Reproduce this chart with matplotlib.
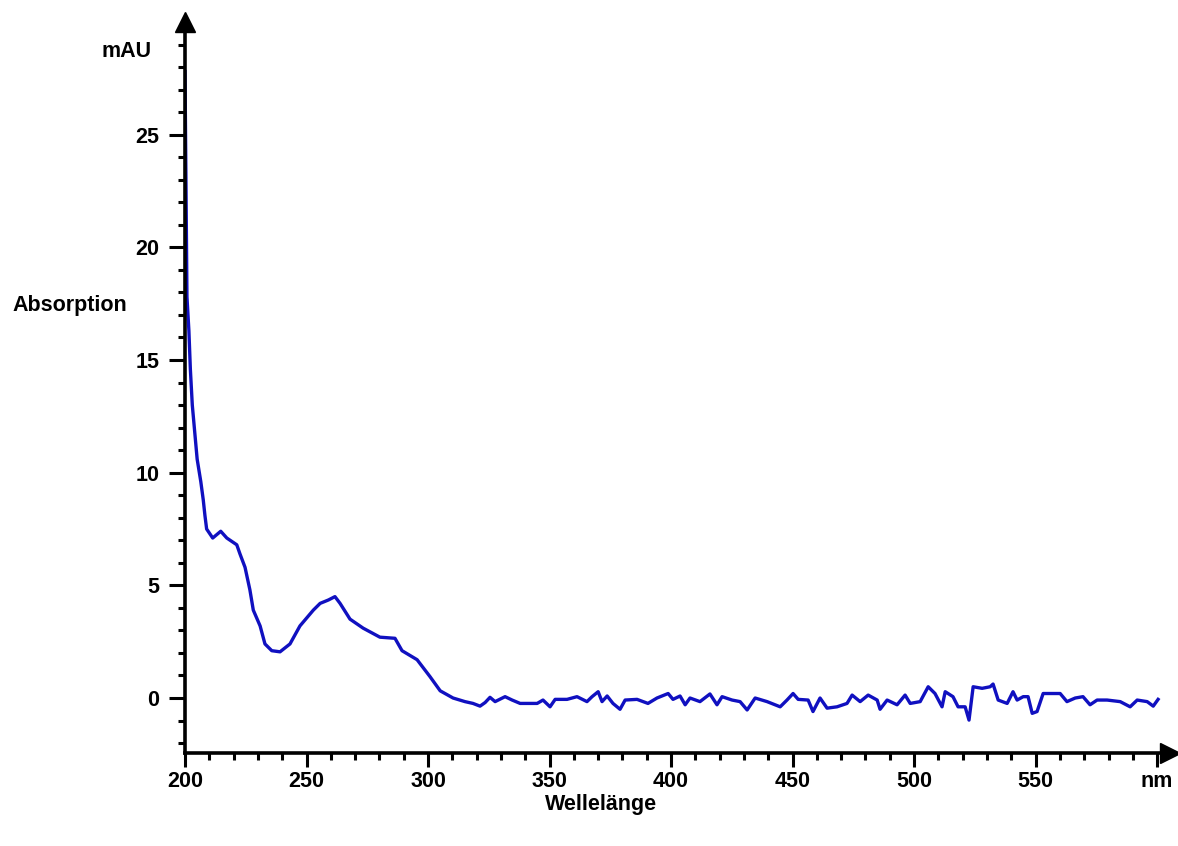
import numpy as np
import matplotlib.pyplot as plt

plt.rcParams['font.family'] = ['Liberation Sans', 'DejaVu Sans']
plt.rcParams['font.weight'] = 'bold'

# spectrum (wavelength in nm, absorption in mAU)
wavelength = [200, 200.4, 200.8, 201.6, 202.2, 203, 204, 205, 206.5, 207.5, 208.2, 208.9,
              211.4, 214.7, 217.2, 221.3, 222.6, 224.7, 226.7, 228.1, 230.9, 232.9, 235.7,
              239.1, 243.2, 247.3, 252.8, 255.6, 259, 261.7, 263.8, 267.9, 273.3, 280.2,
              286.4, 289.3, 295.5, 300.8, 305, 310.3, 315.2, 318.5, 321.4, 323.5, 325.5,
              327.6, 331.7, 334.6, 337.9, 344.9, 347.3, 350.2, 352.3, 357.2, 361.3, 365.4,
              367.5, 370, 371.6, 373.7, 376.1, 379, 381.1, 386, 390.5, 394.2, 398.8, 400.8,
              403.7, 405.8, 407.8, 411.9, 416, 418.9, 421, 425.1, 428.4, 431.3, 434.6,
              439.5, 444.9, 447.7, 450.2, 452.3, 456.4, 458.4, 461.3, 464.2, 468.3, 472.4,
              474.5, 477.8, 481.1, 484.8, 486, 488.9, 493, 496.3, 498.4, 502.5, 505.8,
              508.6, 511.5, 512.8, 516, 518.1, 521, 522.6, 524.3, 528, 531.3, 532.5, 534.6,
              538.3, 540.7, 542.4, 544.9, 546.9, 548.6, 550.6, 553.1, 557.2, 560.1, 562.9,
              566.3, 569.5, 572.4, 575.3, 579.4, 584.8, 588.9, 591.8, 595.9, 598.4, 600.4]
absorption = [27.8, 22.9, 17.8, 16.3, 14.6, 13.0, 11.8, 10.6, 9.6, 8.8, 8.1, 7.5,
              7.1, 7.4, 7.1, 6.8, 6.4, 5.8, 4.8, 3.9, 3.2, 2.4, 2.1,
              2.05, 2.4, 3.2, 3.9, 4.2, 4.35, 4.5, 4.2, 3.5, 3.1, 2.7,
              2.65, 2.1, 1.7, 0.95, 0.32, 0.0, -0.16, -0.24, -0.36, -0.2, 0.03,
              -0.16, 0.06, -0.09, -0.24, -0.24, -0.09, -0.39, -0.06, -0.06, 0.06, -0.16,
              0.06, 0.28, -0.16, 0.09, -0.24, -0.5, -0.09, -0.06, -0.24, 0.0, 0.2, -0.06,
              0.09, -0.3, 0.0, -0.16, 0.18, -0.3, 0.06, -0.09, -0.16, -0.53, 0.0,
              -0.16, -0.39, -0.09, 0.2, -0.06, -0.09, -0.6, 0.0, -0.45, -0.39, -0.24,
              0.13, -0.16, 0.13, -0.09, -0.5, -0.09, -0.3, 0.13, -0.24, -0.16, 0.5,
              0.2, -0.39, 0.28, 0.06, -0.39, -0.39, -0.98, 0.5, 0.43, 0.5, 0.62, -0.09,
              -0.24, 0.28, -0.09, 0.06, 0.06, -0.68, -0.6, 0.2, 0.2, 0.2, -0.16,
              0.0, 0.06, -0.3, -0.09, -0.09, -0.16, -0.39, -0.09, -0.16, -0.36, -0.06]

x_major = [200, 250, 300, 350, 400, 450, 500, 550, 600]
x_labels = ['200', '250', '300', '350', '400', '450', '500', '550', 'nm']
y_major = [0, 5, 10, 15, 20, 25]

fs = 15.5
fig = plt.figure(figsize=(11.78, 8.46), dpi=100)
ax = fig.add_axes([0.15705, 0.10993, 0.83616, 0.86407])

ax.plot(wavelength, absorption, color='#1010c0', lw=2.4)

ax.set_xlim(200, 605.3)
ax.set_ylim(-2.44, 30.0)

for s in ['top', 'right']:
    ax.spines[s].set_visible(False)
for s in ['left', 'bottom']:
    ax.spines[s].set_linewidth(2.6)

ax.set_xticks(x_major)
ax.set_xticklabels(x_labels)
ax.set_xticks(np.arange(200, 601, 10), minor=True)
ax.set_yticks(y_major)
ax.set_yticks(np.arange(-2, 30, 1), minor=True)

ax.tick_params(which='major', direction='out', width=2.2, labelsize=fs)
ax.tick_params(axis='x', which='major', length=10, pad=3)
ax.tick_params(axis='y', which='major', length=11.5, pad=7)
ax.tick_params(which='minor', direction='out', width=2.2, length=5)

# arrow heads at the ends of the axes
ax.plot([0], [1], marker='^', color='black', ms=15, transform=ax.transAxes, clip_on=False)
ax.plot([1], [0], marker='>', color='black', ms=14, transform=ax.transAxes, clip_on=False)

ax.annotate('mAU', xy=(0, 28.7), xycoords=('axes fraction', 'data'), xytext=(-24, 0),
            textcoords='offset points', ha='right', va='center', fontsize=fs)
fig.text(12 / 1178, 1 - 306 / 846, 'Absorption', ha='left', va='center', fontsize=fs)
ax.annotate('Wellelänge', xy=(371, 0), xycoords=('data', 'axes fraction'), xytext=(0, -37),
            textcoords='offset points', ha='center', va='center', fontsize=fs)

fig.savefig('out.png', dpi=100)
